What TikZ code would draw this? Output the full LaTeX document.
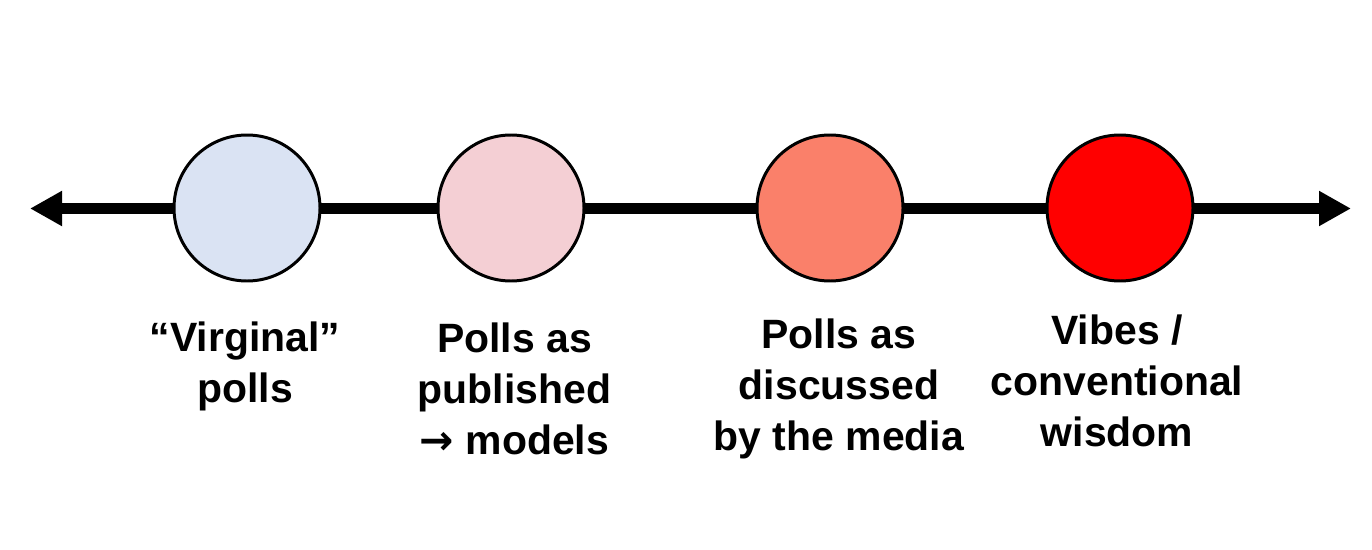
\documentclass[tikz,border=0pt]{standalone}
\usepackage{fontspec}
\setmainfont{Liberation Sans}
\newfontfamily\arrowfont{DejaVu Sans}
\usepackage{tikz}
\usetikzlibrary{arrows.meta}
\definecolor{rawblue}{HTML}{DAE3F3}
\definecolor{modelpink}{HTML}{F4CFD4}
\definecolor{mediasalmon}{HTML}{FA806A}
\definecolor{vibered}{HTML}{FF0000}

\begin{document}
\begin{tikzpicture}[
dot/.style={circle, draw=black, line width=1.7pt, minimum size=2.92cm, inner sep=0pt},
lbl/.style={font=\fontsize{23.3}{29.2}\selectfont\bfseries, align=center, inner sep=0pt},
axis/.style={line width=6.3pt, {Triangle[length=0.64cm, width=0.66cm]}-{Triangle[length=0.64cm, width=0.66cm]}}
]
\useasboundingbox (0,0) rectangle (27.44,-11);
%Axis
\coordinate (lend) at (0.6,-4.17);
\coordinate (rend) at (27.02,-4.17);
\draw[axis] (lend) -- (rend);
%Nodes
\node[dot, fill=rawblue]     (c1) at (4.94,-4.16)                 {};
\node[dot, fill=modelpink]   (c2) [right of =c1, xshift= 4.28cm]  {};
\node[dot, fill=mediasalmon] (c3) [right of =c2, xshift= 5.38cm]  {};
\node[dot, fill=vibered]     (c4) [right of =c3, xshift= 4.80cm]  {};
%Labels
\node[lbl] (l1) [below of =c1, anchor=north, xshift=-0.04cm, yshift=-1.26cm] {``Virginal''\\polls};
\node[lbl] (l2) [below of =c2, anchor=north, xshift= 0.07cm, yshift=-1.28cm] {Polls as\\published\\{\arrowfont →} models};
\node[lbl] (l3) [below of =c3, anchor=north, xshift= 0.18cm, yshift=-1.20cm] {Polls as\\discussed\\by the media};
\node[lbl] (l4) [below of =c4, anchor=north, xshift=-0.06cm, yshift=-1.12cm] {Vibes /\\conventional\\wisdom};
\end{tikzpicture}
\end{document}
